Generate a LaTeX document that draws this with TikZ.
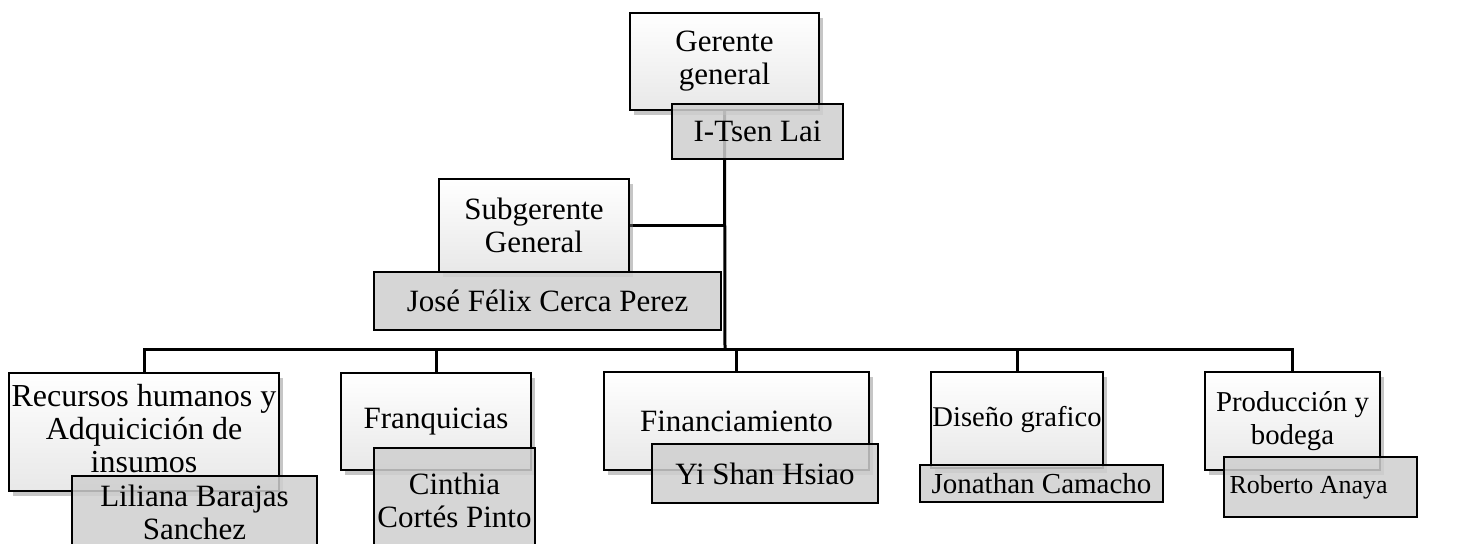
\documentclass[tikz,border=0pt]{standalone}
\usepackage{fontspec}
\setmainfont{Liberation Serif}
\usetikzlibrary{shadows, backgrounds}
\tikzstyle{puesto} = [draw, line width=1pt, top color=white, bottom color=black!9, drop shadow={opacity=0.45, shadow xshift=2pt, shadow yshift=-2.5pt}, align=center, inner sep=0pt, font=\fontsize{15.5}{16.5}\selectfont]
\tikzstyle{nombre} = [draw, line width=0.6pt, fill=black!19, fill opacity=0.85, text opacity=1, align=center, inner sep=0pt, font=\fontsize{15.5}{16.5}\selectfont]
\tikzstyle{linea} = [line width=1.5pt]

\begin{document}
\begin{tikzpicture}[x=0.5pt, y=-0.5pt]

        \useasboundingbox (0,0) rectangle (1477,544);
        \clip (0,0) rectangle (1477,544);

        % direccion
        \node at (724.5,61.5) [puesto, minimum width=94.5pt, minimum height=48.5pt](gerente) {Gerente\\general};
        \node at (757.5,131.5) [nombre, minimum width=85.5pt, minimum height=27.5pt](itsen) {I-Tsen Lai};

        \node at (534,225.5) [puesto, minimum width=95pt, minimum height=46.5pt](subgerente) {Subgerente\\General};
        \node at (547.5,301) [nombre, minimum width=173.5pt, minimum height=29pt](jose) {José Félix Cerca Perez};

        % departamentos
        \node at (144,432) [puesto, minimum width=135pt, minimum height=59pt, font=\fontsize{16}{16.5}\selectfont](recursos) {Recursos humanos y\\Adquicición de\\insumos\\[-13pt]};
        \node at (194.5,512) [nombre, minimum width=122.5pt, minimum height=36pt](liliana) {Liliana Barajas\\Sanchez};

        \node at (436,421.5) [puesto, minimum width=95pt, minimum height=48.5pt](franquicias) {Franquicias};
        \node at (454.5,500) [nombre, minimum width=80.5pt, minimum height=52pt](cinthia) {Cinthia\\Cortés Pinto};

        \node at (736.5,421) [puesto, minimum width=132.5pt, minimum height=49pt](financiamiento) {Financiamiento};
        \node at (765,473.5) [nombre, minimum width=113pt, minimum height=29.5pt](yishan) {Yi Shan Hsiao};

        \node at (1017,420) [puesto, minimum width=86pt, minimum height=48pt, font=\fontsize{14.3}{16.5}\selectfont](diseno) {Diseño grafico};
        \node at (1041.5,483.5) [nombre, minimum width=121.5pt, minimum height=18.5pt, font=\fontsize{14.5}{16.5}\selectfont](jonathan) {Jonathan Camacho};

        \node at (1292.5,421) [puesto, minimum width=87.5pt, minimum height=49pt, font=\fontsize{14.4}{16.5}\selectfont](produccion) {Producción y\\bodega};
        \node at (1320.5,487) [nombre, minimum width=96.5pt, minimum height=30pt, font=\fontsize{13}{16.5}\selectfont](roberto) {\makebox[91pt][l]{Roberto Anaya}};

        % lineas
        \coordinate (bus) at (725,350);
        \begin{scope}[on background layer]
        \draw[linea] (gerente.south) -- (bus);
        \draw[linea] (subgerente.east) -- (subgerente.east -| gerente.south);
        \draw[linea] (bus) -| (recursos.north);
        \draw[linea] (bus) -| (franquicias.north);
        \draw[linea] (bus) -| (financiamiento.north);
        \draw[linea] (bus) -| (diseno.north);
        \draw[linea] (bus) -| (produccion.north);
        \end{scope}

    \end{tikzpicture}
\end{document}
